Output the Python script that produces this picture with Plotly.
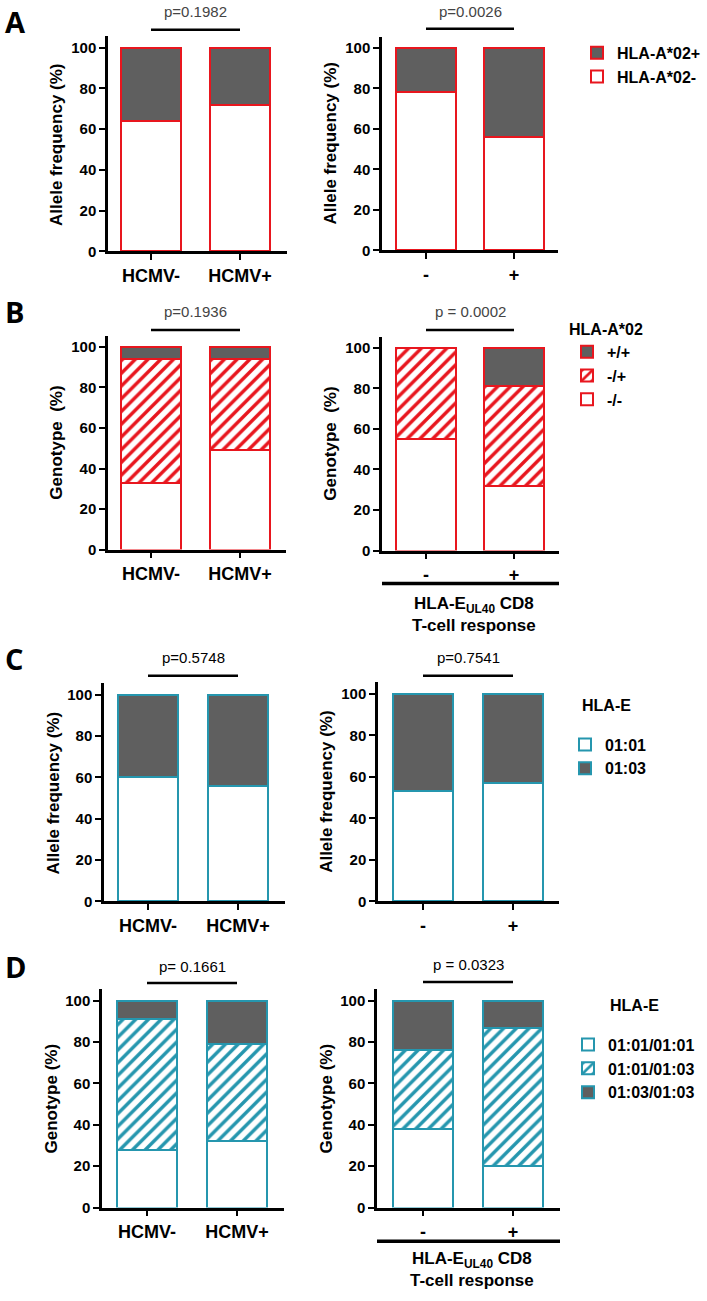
import plotly.graph_objects as go

W, H = 707, 1301
FONT = "Liberation Sans"
RED = "#e8161e"
TEAL = "#2596ae"
GRAY = "#5f5f5f"

# ---------------- data ----------------
cats_hcmv = ["HCMV-", "HCMV+"]
cats_resp = ["-", "+"]
yticks = [0, 20, 40, 60, 80, 100]

# A: HLA-A*02 allele frequency
A_left_neg = [64, 72]
A_left_pos = [36, 28]
A_right_neg = [78, 56]
A_right_pos = [22, 44]
A_names = ["HLA-A*02-", "HLA-A*02+"]

# B: HLA-A*02 genotype
B_left_mm = [33, 49]
B_left_mp = [61, 45]
B_left_pp = [6, 6]
B_right_mm = [55, 32]
B_right_mp = [45, 49]
B_right_pp = [0, 19]
B_names = ["-/-", "-/+", "+/+"]

# C: HLA-E allele frequency
C_left_0101 = [60, 56]
C_left_0103 = [40, 44]
C_right_0101 = [53, 57]
C_right_0103 = [47, 43]
C_names = ["01:01", "01:03"]

# D: HLA-E genotype
D_left_11 = [28, 32]
D_left_13 = [63, 47]
D_left_33 = [9, 21]
D_right_11 = [38, 20]
D_right_13 = [38, 67]
D_right_33 = [24, 13]
D_names = ["01:01/01:01", "01:01/01:03", "01:03/01:03"]

pvals = ["p=0.1982", "p=0.0026", "p=0.1936", "p = 0.0002",
         "p=0.5748", "p=0.7541", "p= 0.1661", "p = 0.0323"]
ytitles = ["Allele frequency (%)", "Allele frequency (%)", "Genotype  (%)", "Genotype  (%)",
           "Allele frequency (%)", "Allele frequency (%)", "Genotype (%)", "Genotype (%)"]

# ---------------- layout geometry (pixels) ----------------
geo = [
    dict(xl=108, xr=287, c0=151, c1=240, y0=253, y100=48, pY=12, lY=30),
    dict(xl=382, xr=558, c0=426, c1=514, y0=252, y100=48, pY=12, lY=29),
    dict(xl=108, xr=286, c0=151, c1=240, y0=553, y100=349, pY=313, lY=332),
    dict(xl=382, xr=559, c0=426, c1=514, y0=554, y100=350, pY=313, lY=332),
    dict(xl=104, xr=285, c0=148, c1=238, y0=907, y100=699, pY=662, lY=680),
    dict(xl=378, xr=559, c0=423, c1=513, y0=907, y100=698, pY=662, lY=680),
    dict(xl=102, xr=284, c0=147, c1=237, y0=1215, y100=1007, pY=972, lY=989),
    dict(xl=377, xr=560, c0=423, c1=513, y0=1215, y100=1007, pY=970, lY=988),
]
YMAX = 105.5
BARPX = 60


def sx(i):
    return "" if i == 1 else str(i)


fig = go.Figure()
layout = dict(width=W, height=H, margin=dict(l=0, r=0, t=0, b=0),
              paper_bgcolor="white", plot_bgcolor="white", barmode="stack",
              showlegend=True)
annotations = []
shapes = []

for i, g in enumerate(geo, start=1):
    unit = g["c1"] - g["c0"]
    r0 = -(g["c0"] - g["xl"]) / unit
    r1 = 1 + (g["xr"] - g["c1"]) / unit
    ppv = (g["y0"] - g["y100"]) / 100
    ytop = g["y0"] - YMAX * ppv
    g["r0"], g["r1"], g["w"] = r0, r1, BARPX / unit
    cats = cats_hcmv if i % 2 == 1 else cats_resp
    s = sx(i)
    layout["xaxis" + s] = dict(
        domain=[g["xl"] / W, g["xr"] / W], range=[r0, r1], anchor="y" + s,
        tickvals=[0, 1], ticktext=cats, showline=True, linecolor="black", linewidth=2.5,
        ticks="outside", ticklen=6, tickwidth=2, tickcolor="black", showgrid=False,
        zeroline=False, fixedrange=True,
        tickfont=dict(family=FONT, size=18, color="black", weight="bold"))
    layout["yaxis" + s] = dict(
        domain=[1 - g["y0"] / H, 1 - ytop / H], range=[0, YMAX], anchor="x" + s,
        tickvals=yticks, showline=True, linecolor="black", linewidth=2.5,
        ticks="outside", ticklen=6, tickwidth=2, tickcolor="black", showgrid=False,
        zeroline=False, fixedrange=True,
        tickfont=dict(family=FONT, size=15, color="black", weight="bold"))
    # y title
    annotations.append(dict(
        text=ytitles[i - 1], textangle=-90, xref="paper", yref="y%s domain" % s,
        x=(g["xl"] - 51) / W, y=0.5, xanchor="center", yanchor="middle", showarrow=False,
        font=dict(family=FONT, size=17, color="black", weight="bold")))
    # p value
    pcol = "#444444" if i <= 4 else "black"
    annotations.append(dict(
        text=pvals[i - 1], xref="x" + s, yref="paper", x=0.5, y=1 - g["pY"] / H,
        xanchor="center", yanchor="middle", showarrow=False,
        font=dict(family=FONT, size=15, color=pcol)))
    shapes.append(dict(
        type="line", xref="x%s domain" % s, yref="paper",
        x0=(0 - r0) / (r1 - r0), x1=(1 - r0) / (r1 - r0),
        y0=1 - g["lY"] / H, y1=1 - g["lY"] / H, line=dict(color="black", width=2.5)))


def add_bar(i, vals, name, edge, fill, hatch, legend, show):
    g = geo[i - 1]
    marker = dict(color=fill, line=dict(color=edge, width=2))
    if hatch:
        marker["pattern"] = dict(shape="/", fgcolor=edge, bgcolor="white",
                                 size=9, solidity=0.38, fillmode="replace")
    fig.add_trace(go.Bar(
        x=[0, 1], y=vals, width=g["w"], name=name, marker=marker,
        xaxis="x" + sx(i), yaxis="y" + sx(i), legend=legend, showlegend=show,
        hoverinfo="y+name"))


# A
for i, neg, pos in [(1, A_left_neg, A_left_pos), (2, A_right_neg, A_right_pos)]:
    add_bar(i, neg, A_names[0], RED, "white", False, "legend", i == 2)
    add_bar(i, pos, A_names[1], RED, GRAY, False, "legend", i == 2)
# B
for i, mm, mp, pp in [(3, B_left_mm, B_left_mp, B_left_pp), (4, B_right_mm, B_right_mp, B_right_pp)]:
    add_bar(i, mm, B_names[0], RED, "white", False, "legend2", i == 4)
    add_bar(i, mp, B_names[1], RED, "white", True, "legend2", i == 4)
    add_bar(i, pp, B_names[2], RED, GRAY, False, "legend2", i == 4)
# C
for i, a, b in [(5, C_left_0101, C_left_0103), (6, C_right_0101, C_right_0103)]:
    add_bar(i, a, C_names[0], TEAL, "white", False, "legend3", i == 6)
    add_bar(i, b, C_names[1], TEAL, GRAY, False, "legend3", i == 6)
# D
for i, a, b, c in [(7, D_left_11, D_left_13, D_left_33), (8, D_right_11, D_right_13, D_right_33)]:
    add_bar(i, a, D_names[0], TEAL, "white", False, "legend4", i == 8)
    add_bar(i, b, D_names[1], TEAL, "white", True, "legend4", i == 8)
    add_bar(i, c, D_names[2], TEAL, GRAY, False, "legend4", i == 8)

legfont = dict(family=FONT, size=16, color="black", weight="bold")
layout["legend"] = dict(x=577 / W, y=1 - 36 / H, xanchor="left", yanchor="top",
                        traceorder="reversed", font=legfont, bgcolor="rgba(0,0,0,0)")
layout["legend2"] = dict(x=567 / W, y=1 - 316 / H, xanchor="left", yanchor="top",
                         traceorder="reversed", font=legfont, bgcolor="rgba(0,0,0,0)",
                         title=dict(text="HLA-A*02", font=legfont))
layout["legend3"] = dict(x=565 / W, y=1 - 732 / H, xanchor="left", yanchor="top",
                         traceorder="normal", font=legfont, bgcolor="rgba(0,0,0,0)")
layout["legend4"] = dict(x=568 / W, y=1 - 1034 / H, xanchor="left", yanchor="top",
                         traceorder="normal", font=legfont, bgcolor="rgba(0,0,0,0)")

# legend headings for C and D
for px, py in [(580, 710), (608, 1012)]:
    annotations.append(dict(text="HLA-E", xref="paper", yref="paper", x=px / W, y=1 - py / H,
                            xanchor="left", yanchor="middle", showarrow=False, font=legfont))

# panel letters
annotations.append(dict(text="A", xref="paper", yref="paper", x=3 / W, y=1,
                        xanchor="left", yanchor="top", showarrow=False,
                        font=dict(family="Open Sans", size=29, color="black", weight="bold")))
for letter, py in [("B", 313), ("C", 663), ("D", 972)]:
    annotations.append(dict(text=letter, xref="paper", yref="paper", x=3 / W, y=1 - py / H,
                            xanchor="left", yanchor="middle", showarrow=False,
                            font=dict(family="Open Sans", size=29, color="black", weight="bold")))

# response group line + label under B-right and D-right
for i, ly, ty in [(4, 587, 618), (8, 1249, 1277)]:
    shapes.append(dict(type="line", xref="x%s domain" % sx(i), yref="paper", x0=0, x1=1,
                       y0=1 - ly / H, y1=1 - ly / H, line=dict(color="black", width=3.5)))
    annotations.append(dict(text="HLA-E<sub>UL40</sub> CD8<br>T-cell response",
                            xref="x%s domain" % sx(i), yref="paper", x=0.52, y=1 - ty / H,
                            xanchor="center", yanchor="middle", showarrow=False,
                            font=dict(family=FONT, size=17, color="black", weight="bold")))

layout["annotations"] = annotations
layout["shapes"] = shapes
fig.update_layout(**layout)
fig.write_html("out.html", config={"displayModeBar": False},
               post_script="document.body.style.margin='0';document.body.style.padding='0';")
